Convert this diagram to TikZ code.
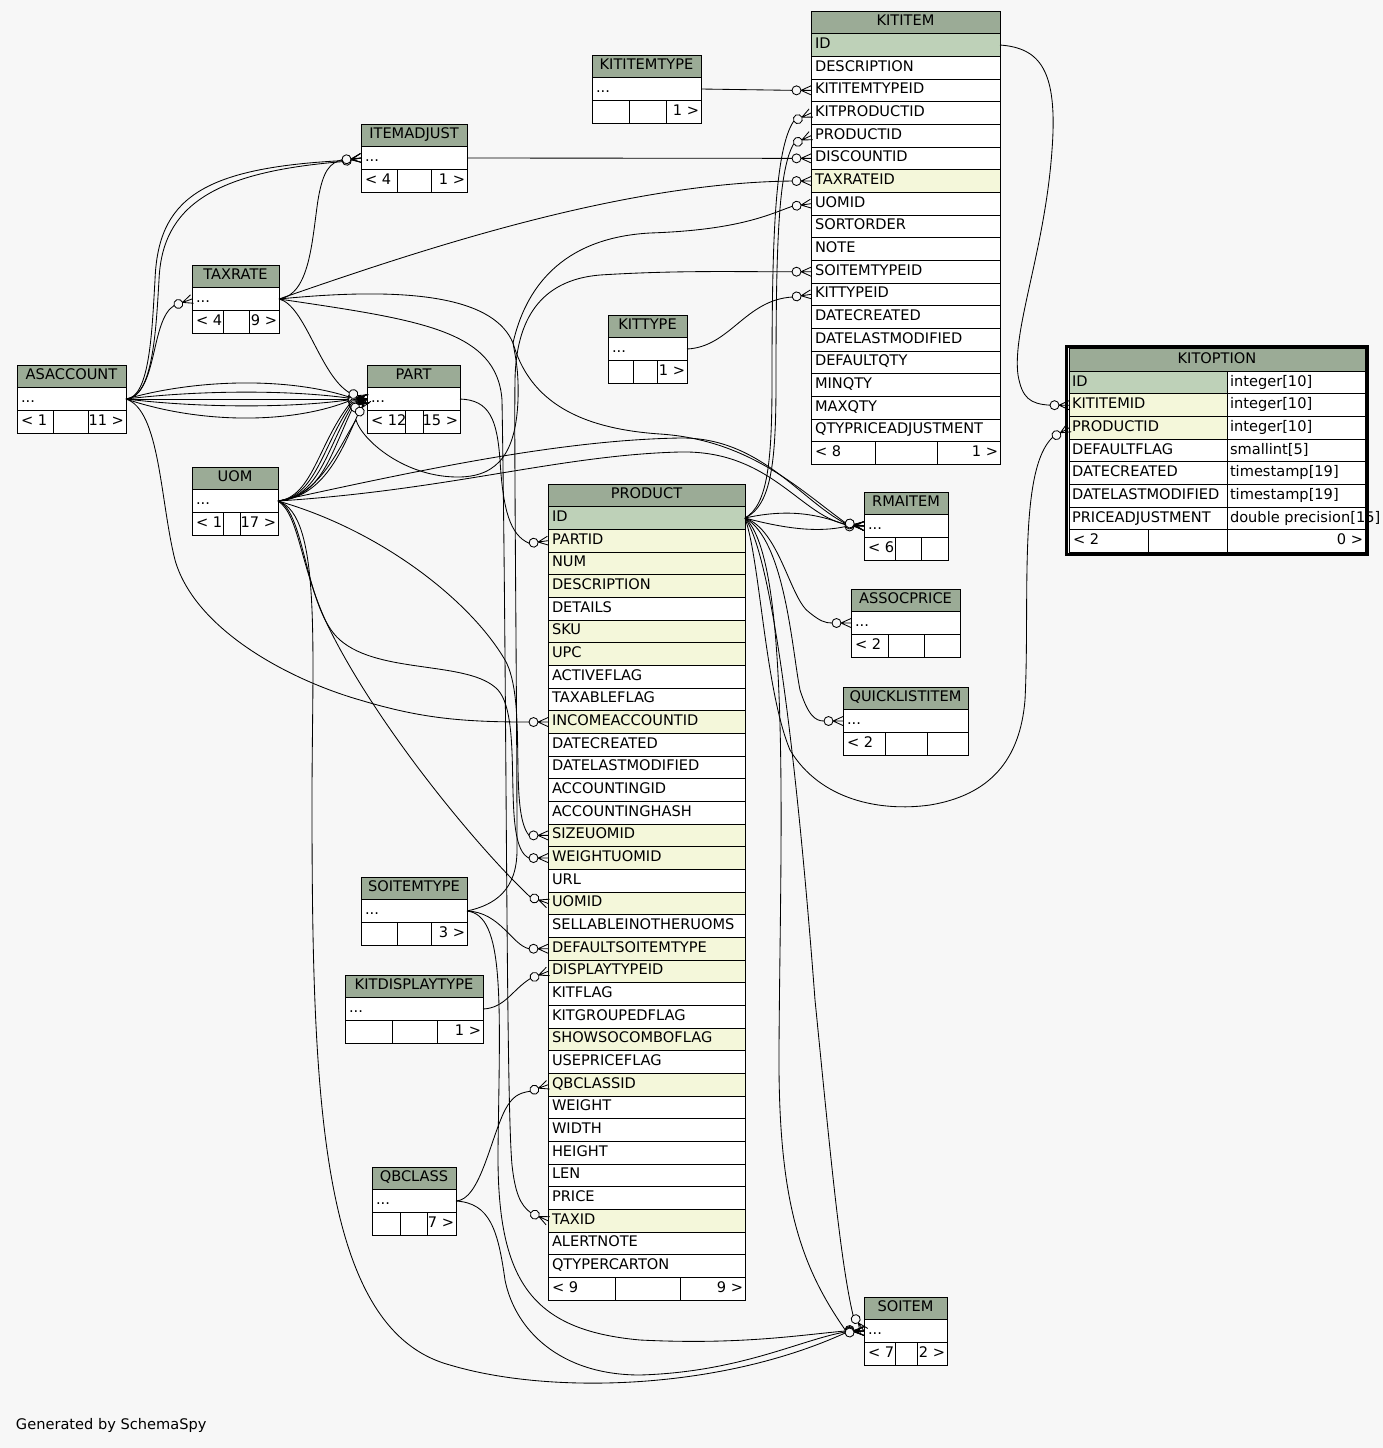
\documentclass[tikz,border=0pt]{standalone}
\usepackage{fontspec}
\setmainfont{DejaVu Sans}
\definecolor{bgcol}{HTML}{F7F7F7}
\definecolor{hdcol}{HTML}{9BAB96}
\definecolor{pkcol}{HTML}{BED1B8}
\definecolor{fkcol}{HTML}{F4F7DA}
\newcommand\tabfont{\fontsize{14.6pt}{17pt}\selectfont}
\newcommand\dd{...}
\def\rh{22.67}
\tikzset{
  cellbase/.style={draw=black, line width=0.9pt, inner sep=0pt, outer sep=0pt, anchor=north west, minimum height=22.67pt},
  hdr/.style={cellbase, fill=hdcol, font=\tabfont, text height=11pt, text depth=4pt},
  txt/.style={inner sep=0pt, outer sep=0pt, font=\tabfont, text height=11pt, text depth=4pt},
  fk/.style={line width=0.85pt},
}
\newcommand\tabl[6]{%
  \node[hdr, minimum width=#4pt] (#1) at (#2,#3) {#5};
  \foreach \k/\c/\t [count=\i] in {#6} {%
    \pgfmathsetmacro\yy{#3+\i*\rh}%
    \node[cellbase, fill=\c, minimum width=#4pt] (#1-\k) at (#2,\yy) {};
    \node[txt, anchor=west] (#1-\k-t) at ([xshift=4pt]#1-\k.west) {\t};
  }}
\newcommand\ftr[9]{%
  \pgfmathsetmacro\yy{#3+#4*\rh}%
  \pgfmathsetmacro\wa{#5-#2}\pgfmathsetmacro\wb{#6-#5}\pgfmathsetmacro\wc{#7-#6}%
  \node[cellbase, fill=white, minimum width=\wa pt] (#1-f1) at (#2,\yy) {};
  \node[cellbase, fill=white, minimum width=\wb pt] (#1-f2) at (#5,\yy) {};
  \node[cellbase, fill=white, minimum width=\wc pt] (#1-f3) at (#6,\yy) {};
  \node[txt, anchor=west] (#1-lt) at ([xshift=4pt]#1-f1.west) {#8};
  \node[txt, anchor=east] (#1-rt) at ([xshift=-2pt]#1-f3.east) {#9};}
\newcommand\fkend[3]{%
  \begin{scope}[shift={(#2)}, rotate=#3]
    \coordinate (#1) at (-19,0);
    \draw[fk] (-10,0) -- (0,0) (-10,0) -- (0,4.5) (-10,0) -- (0,-4.5);
    \draw[fk, fill=bgcol] (-14.5,0) circle[radius=4.5];
  \end{scope}}
\begin{document}
\begin{tikzpicture}[x=1pt,y=-1pt]
\fill[bgcol] (0,0) rectangle (1383,1448);
\useasboundingbox (0,0) rectangle (1383,1448);

% ---------------- tables ----------------
\tabl{kititem}{811}{11}{189}{KITITEM}{ID/pkcol/ID, DESCRIPTION/white/DESCRIPTION, KITITEMTYPEID/white/KITITEMTYPEID, KITPRODUCTID/white/KITPRODUCTID, PRODUCTID/white/PRODUCTID, DISCOUNTID/white/DISCOUNTID, TAXRATEID/fkcol/TAXRATEID, UOMID/white/UOMID, SORTORDER/white/SORTORDER, NOTE/white/NOTE, SOITEMTYPEID/white/SOITEMTYPEID, KITTYPEID/white/KITTYPEID, DATECREATED/white/DATECREATED, DATELASTMODIFIED/white/DATELASTMODIFIED, DEFAULTQTY/white/DEFAULTQTY, MINQTY/white/MINQTY, MAXQTY/white/MAXQTY, QTYPRICEADJUSTMENT/white/QTYPRICEADJUSTMENT}
\ftr{kititem}{811}{11}{19}{875}{937}{1000}{< 8}{1 >}

\tabl{product}{548}{484}{197}{PRODUCT}{ID/pkcol/ID, PARTID/fkcol/PARTID, NUM/fkcol/NUM, DESCRIPTION/fkcol/DESCRIPTION, DETAILS/white/DETAILS, SKU/fkcol/SKU, UPC/fkcol/UPC, ACTIVEFLAG/white/ACTIVEFLAG, TAXABLEFLAG/white/TAXABLEFLAG, INCOMEACCOUNTID/fkcol/INCOMEACCOUNTID, DATECREATED/white/DATECREATED, DATELASTMODIFIED/white/DATELASTMODIFIED, ACCOUNTINGID/white/ACCOUNTINGID, ACCOUNTINGHASH/white/ACCOUNTINGHASH, SIZEUOMID/fkcol/SIZEUOMID, WEIGHTUOMID/fkcol/WEIGHTUOMID, URL/white/URL, UOMID/fkcol/UOMID, SELLABLEINOTHERUOMS/white/SELLABLEINOTHERUOMS, DEFAULTSOITEMTYPE/fkcol/DEFAULTSOITEMTYPE, DISPLAYTYPEID/fkcol/DISPLAYTYPEID, KITFLAG/white/KITFLAG, KITGROUPEDFLAG/white/KITGROUPEDFLAG, SHOWSOCOMBOFLAG/fkcol/SHOWSOCOMBOFLAG, USEPRICEFLAG/white/USEPRICEFLAG, QBCLASSID/fkcol/QBCLASSID, WEIGHT/white/WEIGHT, WIDTH/white/WIDTH, HEIGHT/white/HEIGHT, LEN/white/LEN, PRICE/white/PRICE, TAXID/fkcol/TAXID, ALERTNOTE/white/ALERTNOTE, QTYPERCARTON/white/QTYPERCARTON}
\ftr{product}{548}{484}{35}{615}{680}{745}{< 9}{9 >}

\tabl{itemadjust}{361}{124}{106}{ITEMADJUST}{d/white/\dd}
\ftr{itemadjust}{361}{124}{2}{397}{431}{467}{< 4}{1 >}
\tabl{taxrate}{192}{265}{87}{TAXRATE}{d/white/\dd}
\ftr{taxrate}{192}{265}{2}{223}{249}{279}{< 4}{9 >}
\tabl{asaccount}{17}{365}{109}{ASACCOUNT}{d/white/\dd}
\ftr{asaccount}{17}{365}{2}{53}{88}{126}{< 1}{11 >}
\tabl{part}{367}{365}{93}{PART}{d/white/\dd}
\ftr{part}{367}{365}{2}{405}{423}{460}{< 12}{15 >}
\tabl{uom}{192}{467}{86}{UOM}{d/white/\dd}
\ftr{uom}{192}{467}{2}{223}{240}{278}{< 1}{17 >}
\tabl{kititemtype}{592}{55}{109}{KITITEMTYPE}{d/white/\dd}
\ftr{kititemtype}{592}{55}{2}{629}{666}{701}{}{1 >}
\tabl{kittype}{608}{315}{79}{KITTYPE}{d/white/\dd}
\ftr{kittype}{608}{315}{2}{633}{657}{687}{}{1 >}
\tabl{rmaitem}{864}{492}{84}{RMAITEM}{d/white/\dd}
\ftr{rmaitem}{864}{492}{2}{895}{921}{948}{< 6}{}
\tabl{assocprice}{851}{589}{109}{ASSOCPRICE}{d/white/\dd}
\ftr{assocprice}{851}{589}{2}{888}{924}{960}{< 2}{}
\tabl{quicklistitem}{843}{687}{125}{QUICKLISTITEM}{d/white/\dd}
\ftr{quicklistitem}{843}{687}{2}{885}{927}{968}{< 2}{}
\tabl{soitemtype}{361}{877}{106}{SOITEMTYPE}{d/white/\dd}
\ftr{soitemtype}{361}{877}{2}{397}{431}{467}{}{3 >}
\tabl{kitdisplaytype}{345}{975}{138}{KITDISPLAYTYPE}{d/white/\dd}
\ftr{kitdisplaytype}{345}{975}{2}{392}{437}{483}{}{1 >}
\tabl{qbclass}{372}{1167}{84}{QBCLASS}{d/white/\dd}
\ftr{qbclass}{372}{1167}{2}{400}{427}{456}{}{7 >}
\tabl{soitem}{864}{1297}{83}{SOITEM}{d/white/\dd}
\ftr{soitem}{864}{1297}{2}{895}{917}{947}{< 7}{2 >}

% KITOPTION (two columns, bold frame)
\draw[line width=3pt] (1066,346.5) rectangle (1367.5,554.5);
\node[hdr, minimum width=296pt] (kitoption) at (1069,348.5) {KITOPTION};
\foreach \k/\c/\t/\u [count=\i] in {ID/pkcol/ID/integer[10], KITITEMID/fkcol/KITITEMID/integer[10], PRODUCTID/fkcol/PRODUCTID/integer[10], DEFAULTFLAG/white/DEFAULTFLAG/smallint[5], DATECREATED/white/DATECREATED/timestamp[19], DATELASTMODIFIED/white/DATELASTMODIFIED/timestamp[19], PRICEADJUSTMENT/white/PRICEADJUSTMENT/double precision[15]} {%
  \pgfmathsetmacro\yy{348.5+\i*\rh}%
  \node[cellbase, fill=\c, minimum width=158pt] (kitoption-\k) at (1069,\yy) {};
  \node[cellbase, fill=white, minimum width=138pt] (kitoption-\k-b) at (1227,\yy) {};
  \node[txt, anchor=west] (kitoption-\k-t) at ([xshift=3pt]kitoption-\k.west) {\t};
  \node[txt, anchor=west] (kitoption-\k-u) at ([xshift=3pt]kitoption-\k-b.west) {\u};
}
\ftr{kitoption}{1069}{348.5}{8}{1148}{1227}{1365}{< 2}{0 >}

% ---------------- relationship ends ----------------
\fkend{e-kop-ki}{kitoption-KITITEMID.west}{0}
\fkend{e-kop-p}{kitoption-PRODUCTID.west}{30}
\fkend{e-kt-kit}{kititem-KITITEMTYPEID.west}{0}
\fkend{e-kt-kp}{kititem-KITPRODUCTID.west}{25}
\fkend{e-kt-p}{kititem-PRODUCTID.west}{25}
\fkend{e-kt-disc}{kititem-DISCOUNTID.west}{0}
\fkend{e-kt-tax}{kititem-TAXRATEID.west}{0}
\fkend{e-kt-uom}{kititem-UOMID.west}{8}
\fkend{e-kt-soit}{kititem-SOITEMTYPEID.west}{0}
\fkend{e-kt-kt}{kititem-KITTYPEID.west}{8}
\fkend{e-ia-1}{itemadjust-d.west}{8}
\fkend{e-ia-2}{itemadjust-d.west}{11}
\fkend{e-ia-3}{itemadjust-d.west}{5}
\fkend{e-tr-1}{taxrate-d.west}{20}
\fkend{e-pt-1}{part-d.west}{-7}
\fkend{e-pt-2}{part-d.west}{-3}
\fkend{e-pt-3}{part-d.west}{0}
\fkend{e-pt-4}{part-d.west}{3}
\fkend{e-pt-5}{part-d.west}{7}
\fkend{e-pt-6}{part-d.west}{-20}
\fkend{e-pt-7}{part-d.west}{18}
\fkend{e-pt-8}{part-d.west}{24}
\fkend{e-pt-9}{part-d.west}{30}
\fkend{e-pt-10}{part-d.west}{36}
\fkend{e-pt-11}{part-d.west}{60}
\fkend{e-pr-part}{product-PARTID.west}{8}
\fkend{e-pr-inc}{product-INCOMEACCOUNTID.west}{0}
\fkend{e-pr-size}{product-SIZEUOMID.west}{0}
\fkend{e-pr-weight}{product-WEIGHTUOMID.west}{0}
\fkend{e-pr-uom}{product-UOMID.west}{-20}
\fkend{e-pr-dst}{product-DEFAULTSOITEMTYPE.west}{0}
\fkend{e-pr-disp}{product-DISPLAYTYPEID.west}{22}
\fkend{e-pr-qb}{product-QBCLASSID.west}{20}
\fkend{e-pr-tax}{product-TAXID.west}{-25}
\fkend{e-rma-1}{rmaitem-d.west}{-4}
\fkend{e-rma-2}{rmaitem-d.west}{2}
\fkend{e-rma-3}{rmaitem-d.west}{-8}
\fkend{e-rma-4}{rmaitem-d.west}{-6}
\fkend{e-rma-5}{rmaitem-d.west}{-10}
\fkend{e-ap}{assocprice-d.west}{0}
\fkend{e-ql}{quicklistitem-d.west}{0}
\fkend{e-so-1}{soitem-d.west}{-4}
\fkend{e-so-2}{soitem-d.west}{0}
\fkend{e-so-3}{soitem-d.west}{3}
\fkend{e-so-4}{soitem-d.west}{6}
\fkend{e-so-6}{soitem-d.west}{-55}

% ---------------- relationships ----------------
% KITITEM -> KITOPTION
\draw[fk] (kititem-ID.east) .. controls (1040,48) and (1058,70) .. (1052,150) .. controls (1045,250) and (1012,330) .. (1018,375) .. controls (1022,398) and (1030,404) .. (e-kop-ki);
% PRODUCT -> KITOPTION
\draw[fk] (product-ID.east) .. controls (760,560) and (765,690) .. (790,750) .. controls (820,800) and (880,812) .. (930,805) .. controls (990,795) and (1020,760) .. (1025,700) .. controls (1030,600) and (1018,470) .. (e-kop-p);
% KITITEM parents
\draw[fk] (kititemtype-d.east) -- (e-kt-kit);
\draw[fk] (product-ID.east) .. controls (768,505) and (772,460) .. (772,380) .. controls (772,250) and (774,150) .. (e-kt-kp);
\draw[fk] (product-ID.east) .. controls (772,505) and (776,460) .. (776,380) .. controls (776,250) and (778,170) .. (e-kt-p);
\draw[fk] (itemadjust-d.east) -- (e-kt-disc);
\draw[fk] (taxrate-d.east) .. controls (420,250) and (620,183) .. (e-kt-tax);
\draw[fk] (uom-d.east) .. controls (320,497) and (340,445) .. (356,420) .. controls (362,440) and (405,478) .. (460,477) .. controls (500,476) and (516,450) .. (518,400) .. controls (519,370) and (515,355) .. (513,343) .. controls (525,290) and (560,238) .. (650,233) .. controls (740,230) and (770,214) .. (e-kt-uom);
\draw[fk] (soitemtype-d.east) .. controls (495,905) and (517,890) .. (517,850) .. controls (517,700) and (514,450) .. (515,380) .. controls (516,320) and (540,280) .. (600,275) .. controls (680,270) and (740,272) .. (e-kt-soit);
\draw[fk] (kittype-d.east) .. controls (730,347) and (745,300) .. (e-kt-kt);
% ASACCOUNT
\draw[fk] (asaccount-d.east) .. controls (150,398) and (152,330) .. (155,280) .. controls (158,200) and (200,168) .. (e-ia-1);
\draw[fk] (asaccount-d.east) .. controls (153,398) and (156,330) .. (159,280) .. controls (162,205) and (215,172) .. (e-ia-2);
\draw[fk] (asaccount-d.east) .. controls (158,395) and (150,320) .. (e-tr-1);
\draw[fk] (asaccount-d.east) .. controls (200,378) and (290,378) .. (e-pt-1);
\draw[fk] (asaccount-d.east) .. controls (200,390) and (290,390) .. (e-pt-2);
\draw[fk] (asaccount-d.east) -- (e-pt-3);
\draw[fk] (asaccount-d.east) .. controls (200,408) and (290,408) .. (e-pt-4);
\draw[fk] (asaccount-d.east) .. controls (200,424) and (290,424) .. (e-pt-5);
\draw[fk] (asaccount-d.east) .. controls (160,410) and (160,500) .. (175,560) .. controls (195,630) and (290,680) .. (360,700) .. controls (420,718) and (460,722) .. (e-pr-inc);
% TAXRATE
\draw[fk] (taxrate-d.east) .. controls (310,295) and (312,240) .. (318,200) .. controls (323,170) and (330,163) .. (e-ia-3);
\draw[fk] (taxrate-d.east) .. controls (305,305) and (320,375) .. (e-pt-6);
\draw[fk] (taxrate-d.east) .. controls (420,285) and (495,300) .. (513,343) .. controls (528,395) and (570,428) .. (660,434) .. controls (750,440) and (800,490) .. (e-rma-5);
\draw[fk] (taxrate-d.east) .. controls (420,320) and (497,330) .. (502,400) .. controls (507,700) and (506,1100) .. (512,1165) .. controls (515,1192) and (520,1205) .. (e-pr-tax);
% UOM
\draw[fk] (uom-d.east) .. controls (312,497) and (318,445) .. (e-pt-7);
\draw[fk] (uom-d.east) .. controls (315,497) and (322,448) .. (e-pt-8);
\draw[fk] (uom-d.east) .. controls (318,497) and (326,452) .. (e-pt-9);
\draw[fk] (uom-d.east) .. controls (321,497) and (330,456) .. (e-pt-10);
\draw[fk] (uom-d.east) .. controls (324,497) and (342,450) .. (e-pt-11);
\draw[fk] (uom-d.east) .. controls (420,470) and (560,440) .. (680,438) .. controls (760,437) and (800,500) .. (e-rma-3);
\draw[fk] (uom-d.east) .. controls (450,490) and (560,455) .. (680,452) .. controls (770,450) and (800,515) .. (e-rma-4);
\draw[fk] (uom-d.east) .. controls (380,530) and (470,600) .. (505,660) .. controls (528,700) and (508,810) .. (e-pr-size);
\draw[fk] (uom-d.east) .. controls (305,510) and (305,610) .. (340,640) .. controls (380,675) and (470,660) .. (498,690) .. controls (525,720) and (500,845) .. (e-pr-weight);
\draw[fk] (uom-d.east) .. controls (300,515) and (300,570) .. (330,630) .. controls (380,730) and (480,850) .. (e-pr-uom);
\draw[fk] (uom-d.east) .. controls (322,515) and (312,650) .. (312,800) .. controls (312,1100) and (320,1330) .. (450,1365) .. controls (550,1395) and (720,1390) .. (e-so-4);
% PART
\draw[fk] (part-d.east) .. controls (490,400) and (497,420) .. (500,460) .. controls (503,510) and (510,535) .. (e-pr-part);
% PRODUCT children
\draw[fk] (product-ID.east) .. controls (790,508) and (820,515) .. (e-rma-1);
\draw[fk] (product-ID.east) .. controls (790,530) and (820,532) .. (e-rma-2);
\draw[fk] (product-ID.east) .. controls (780,530) and (790,600) .. (810,613) .. controls (820,621) and (825,623) .. (e-ap);
\draw[fk] (product-ID.east) .. controls (785,540) and (792,650) .. (800,690) .. controls (808,715) and (815,721) .. (e-ql);
\draw[fk] (product-ID.east) .. controls (792,560) and (780,850) .. (779,1050) .. controls (778,1200) and (800,1265) .. (e-so-1);
\draw[fk] (product-ID.east) .. controls (775,560) and (800,800) .. (815,1000) .. controls (830,1150) and (840,1260) .. (e-so-6);
% SOITEMTYPE
\draw[fk] (soitemtype-d.east) .. controls (500,912) and (512,945) .. (e-pr-dst);
\draw[fk] (soitemtype-d.east) .. controls (505,915) and (500,1000) .. (498,1150) .. controls (497,1280) and (530,1330) .. (640,1340) .. controls (740,1345) and (800,1335) .. (e-so-2);
% KITDISPLAYTYPE
\draw[fk] (kitdisplaytype-d.east) .. controls (505,1008) and (512,990) .. (e-pr-disp);
% QBCLASS
\draw[fk] (qbclass-d.east) .. controls (480,1200) and (490,1140) .. (505,1110) .. controls (512,1097) and (518,1093) .. (e-pr-qb);
\draw[fk] (qbclass-d.east) .. controls (490,1203) and (498,1230) .. (505,1280) .. controls (515,1330) and (560,1375) .. (640,1375) .. controls (740,1372) and (800,1340) .. (e-so-3);

\node[txt, anchor=west] (gen) at (16,1426) {Generated by SchemaSpy};
\end{tikzpicture}
\end{document}
